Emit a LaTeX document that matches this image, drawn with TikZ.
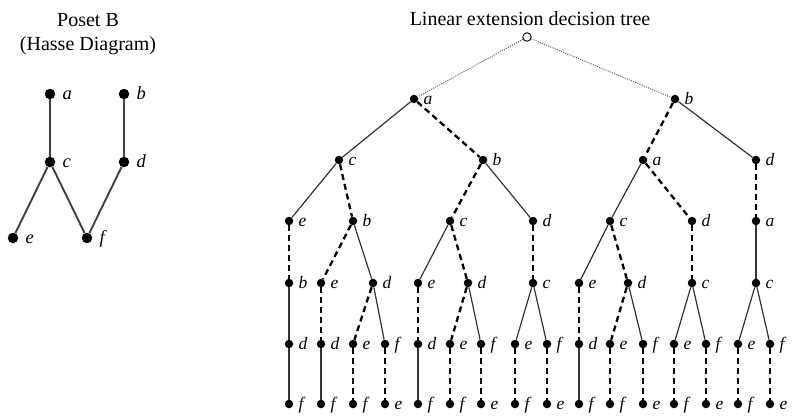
\documentclass[tikz,border=0pt]{standalone}
\usepackage{fontspec}
\setmainfont{Liberation Serif}
\begin{document}
\begin{tikzpicture}[x=1pt,y=-1pt,
  dot/.style={circle,fill=black,inner sep=0pt,minimum size=8.5pt},
  hdot/.style={circle,fill=black,inner sep=0pt,minimum size=10.5pt},
  rootdot/.style={circle,draw=black,fill=white,line width=0.9pt,inner sep=0pt,minimum size=8.5pt},
  lbl/.style={anchor=base west,inner sep=0pt,font=\fontsize{17.5}{17.5}\selectfont\itshape,xshift=5pt,yshift=-5.5pt},
  hlbl/.style={anchor=base west,inner sep=0pt,font=\fontsize{18.5}{18.5}\selectfont\itshape,xshift=7pt,yshift=-5.5pt},
  title/.style={font=\fontsize{20}{22}\selectfont,inner sep=0pt},
  sol/.style={line width=1.2pt,draw=black!80},
  dsh/.style={line width=2.3pt,draw=black,dash pattern=on 6pt off 4pt},
  dotl/.style={line width=1pt,draw=black!65,dash pattern=on 1pt off 1.3pt},
  hline/.style={line width=1.9pt,draw=black!75}
]
\useasboundingbox (0,0) rectangle (795,416);
\newcommand{\tnd}[4]{\node[dot,label={[lbl]east:#4}] (#1) at (#2,#3) {};}
\newcommand{\hnd}[4]{\node[hdot,label={[hlbl]east:#4}] (#1) at (#2,#3) {};}

% ---- Hasse diagram ----
\node[title] (pt1) at (88,20) {Poset B};
\node[title] (pt2) at (88,46) {(Hasse Diagram)};
\hnd{ha}{50}{94}{a}
\hnd{hb}{124}{94}{b}
\hnd{hc}{50}{162}{c}
\hnd{hd}{124}{162}{d}
\hnd{he}{13}{238}{e}
\hnd{hf}{87}{238}{f}
\draw[hline] (ha) -- (hc);
\draw[hline] (hb) -- (hd);
\draw[hline] (hc) -- (he);
\draw[hline] (hc) -- (hf);
\draw[hline] (hd) -- (hf);

% ---- decision tree ----
\node[title] (tt) at (530,19) {Linear extension decision tree};
\node[rootdot] (r) at (527,37) {};
% level 1
\tnd{A}{414}{99}{a}
\tnd{B}{675}{99}{b}
% level 2
\tnd{AC}{339}{160}{c}
\tnd{AB}{483}{160}{b}
\tnd{BA}{643}{160}{a}
\tnd{BD}{756}{160}{d}
% level 3
\tnd{ACE}{289}{221}{e}
\tnd{ACB}{353}{221}{b}
\tnd{ABC}{450}{221}{c}
\tnd{ABD}{533}{221}{d}
\tnd{BAC}{610}{221}{c}
\tnd{BAD}{692}{221}{d}
\tnd{BDA}{756}{221}{a}
% level 4
\tnd{ACEB}{289}{283}{b}
\tnd{ACBE}{321}{283}{e}
\tnd{ACBD}{373}{283}{d}
\tnd{ABCE}{418}{283}{e}
\tnd{ABCD}{468}{283}{d}
\tnd{ABDC}{533}{283}{c}
\tnd{BACE}{579}{283}{e}
\tnd{BACD}{628}{283}{d}
\tnd{BADC}{692}{283}{c}
\tnd{BDAC}{756}{283}{c}
% level 5
\tnd{p1}{289}{344}{d}
\tnd{p2}{321}{344}{d}
\tnd{p3}{353}{344}{e}
\tnd{p4}{385}{344}{f}
\tnd{p5}{418}{344}{d}
\tnd{p6}{450}{344}{e}
\tnd{p7}{481}{344}{f}
\tnd{p8}{515}{344}{e}
\tnd{p9}{547}{344}{f}
\tnd{p10}{579}{344}{d}
\tnd{p11}{610}{344}{e}
\tnd{p12}{643}{344}{f}
\tnd{p13}{674}{344}{e}
\tnd{p14}{706}{344}{f}
\tnd{p15}{738}{344}{e}
\tnd{p16}{770}{344}{f}
% level 6
\tnd{q1}{289}{404}{f}
\tnd{q2}{321}{404}{f}
\tnd{q3}{353}{404}{f}
\tnd{q4}{385}{404}{e}
\tnd{q5}{418}{404}{f}
\tnd{q6}{450}{404}{f}
\tnd{q7}{481}{404}{e}
\tnd{q8}{515}{404}{f}
\tnd{q9}{547}{404}{e}
\tnd{q10}{579}{404}{f}
\tnd{q11}{610}{404}{f}
\tnd{q12}{643}{404}{e}
\tnd{q13}{674}{404}{f}
\tnd{q14}{706}{404}{e}
\tnd{q15}{738}{404}{f}
\tnd{q16}{770}{404}{e}

% edges
\draw[dotl] (r) -- (A);
\draw[dotl] (r) -- (B);
\draw[sol] (A) -- (AC);
\draw[dsh] (A) -- (AB);
\draw[dsh] (B) -- (BA);
\draw[sol] (B) -- (BD);
\draw[sol] (AC) -- (ACE);
\draw[dsh] (AC) -- (ACB);
\draw[dsh] (AB) -- (ABC);
\draw[sol] (AB) -- (ABD);
\draw[sol] (BA) -- (BAC);
\draw[dsh] (BA) -- (BAD);
\draw[dsh] (BD) -- (BDA);
\draw[dsh] (ACE) -- (ACEB);
\draw[dsh] (ACB) -- (ACBE);
\draw[sol] (ACB) -- (ACBD);
\draw[sol] (ABC) -- (ABCE);
\draw[dsh] (ABC) -- (ABCD);
\draw[dsh] (ABD) -- (ABDC);
\draw[sol] (BAC) -- (BACE);
\draw[dsh] (BAC) -- (BACD);
\draw[dsh] (BAD) -- (BADC);
\draw[sol] (BDA) -- (BDAC);
\draw[sol] (ACEB) -- (p1);
\draw[dsh] (ACBE) -- (p2);
\draw[dsh] (ACBD) -- (p3);
\draw[sol] (ACBD) -- (p4);
\draw[dsh] (ABCE) -- (p5);
\draw[dsh] (ABCD) -- (p6);
\draw[sol] (ABCD) -- (p7);
\draw[sol] (ABDC) -- (p8);
\draw[sol] (ABDC) -- (p9);
\draw[dsh] (BACE) -- (p10);
\draw[dsh] (BACD) -- (p11);
\draw[sol] (BACD) -- (p12);
\draw[sol] (BADC) -- (p13);
\draw[sol] (BADC) -- (p14);
\draw[sol] (BDAC) -- (p15);
\draw[sol] (BDAC) -- (p16);
\draw[sol] (p1) -- (q1);
\draw[sol] (p2) -- (q2);
\draw[dsh] (p3) -- (q3);
\draw[dsh] (p4) -- (q4);
\draw[sol] (p5) -- (q5);
\draw[dsh] (p6) -- (q6);
\draw[dsh] (p7) -- (q7);
\draw[dsh] (p8) -- (q8);
\draw[dsh] (p9) -- (q9);
\draw[sol] (p10) -- (q10);
\draw[dsh] (p11) -- (q11);
\draw[dsh] (p12) -- (q12);
\draw[dsh] (p13) -- (q13);
\draw[dsh] (p14) -- (q14);
\draw[dsh] (p15) -- (q15);
\draw[dsh] (p16) -- (q16);
\end{tikzpicture}
\end{document}
